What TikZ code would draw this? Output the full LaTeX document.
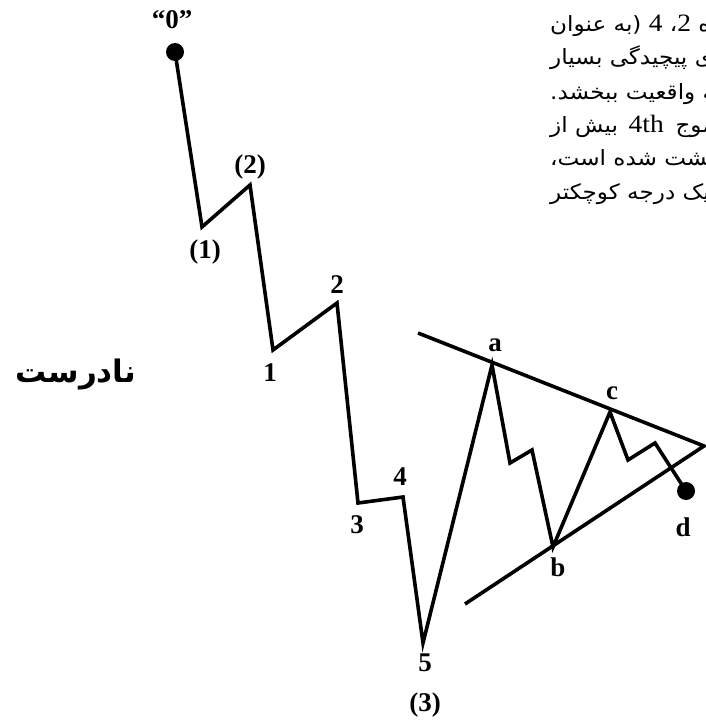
\documentclass[tikz,border=0pt]{standalone}
\usepackage{fontspec}
\setmainfont{Liberation Serif}
\newfontfamily\farsi[Script=Arabic]{DejaVu Sans}
\TeXXeTstate=1
\newcommand{\lat}[1]{{\rmfamily\fontsize{25}{25}\selectfont #1}}

\begin{document}
\begin{tikzpicture}[x=1pt, y=-1pt,
  wave/.style={line width=3.6pt, line join=miter},
  trend/.style={line width=3.6pt},
  lab/.style={font=\fontsize{27}{27}\selectfont\bfseries, inner sep=0pt},
  fa/.style={font=\farsi\fontsize{21}{21}\selectfont, inner sep=0pt,
    anchor=base west, xscale=1.1, transform shape}]
  \useasboundingbox (0,0) rectangle (706,725);

  % turning points of the wave
  \coordinate (p0) at (175,52);
  \coordinate (w1) at (202,227);
  \coordinate (w2) at (250,185);
  \coordinate (s1) at (273,350);
  \coordinate (s2) at (337,303);
  \coordinate (s3) at (358,503);
  \coordinate (s4) at (403,497);
  \coordinate (s5) at (423,643);
  \coordinate (a)  at (492,365);
  \coordinate (a1) at (510,463);
  \coordinate (a2) at (532,450);
  \coordinate (b)  at (553,547);
  \coordinate (c)  at (610,412);
  \coordinate (c1) at (628,460);
  \coordinate (c2) at (655,443);
  \coordinate (d)  at (686,491);
  % triangle lines
  \coordinate (up)   at (418,333);
  \coordinate (apex) at (704,446);
  \coordinate (lo)   at (465,604);

  \draw[wave] (p0) -- (w1) -- (w2) -- (s1) -- (s2) -- (s3) -- (s4) -- (s5)
    -- (a) -- (a1) -- (a2) -- (b) -- (c) -- (c1) -- (c2) -- (d);
  \draw[trend] (up) -- (apex) -- (lo);
  \fill (p0) circle (9);
  \fill (d) circle (9);

  \foreach \n/\x/\y/\t in {z/172/20/“0”, w1/205/252/(1), w2/250/167/(2),
      s1/270/373/1, s2/337/285/2, s3/357/525/3, s4/400/477/4,
      s5/425/663/5, w3/425/705/(3), a/495/345/a, b/558/567/b,
      c/612/393/c, d/683/527/d}
    \node[lab] (l\n) at (\x,\y) {\t};

  \node[font=\farsi\fontsize{31}{31}\selectfont\bfseries, inner sep=0pt]
    (wrong) at (76,375) {نادرست};

  % text cut off at the right edge
  \begin{scope}
    \clip (540,0) rectangle (706,250);
    \node[fa] (t1) at (550,32)  {\beginR امواج شماره \lat{2}، \lat{4} (به عنوان\endR};
    \node[fa] (t2) at (550,65)  {\beginR دارای پیچیدگی بسیار\endR};
    \node[fa] (t3) at (550,99)  {\beginR را به واقعیت ببخشد.\endR};
    \node[fa] (t4) at (550,132) {\beginR این موج\hspace{4pt} \beginL\lat{4th}\endL{}\hspace{3pt} بیش از\endR};
    \node[fa] (t5) at (550,165) {\beginR برگشت شده است،\endR};
    \node[fa] (t6) at (550,199) {\beginR از یک درجه کوچکتر\endR};
  \end{scope}
\end{tikzpicture}
\end{document}
